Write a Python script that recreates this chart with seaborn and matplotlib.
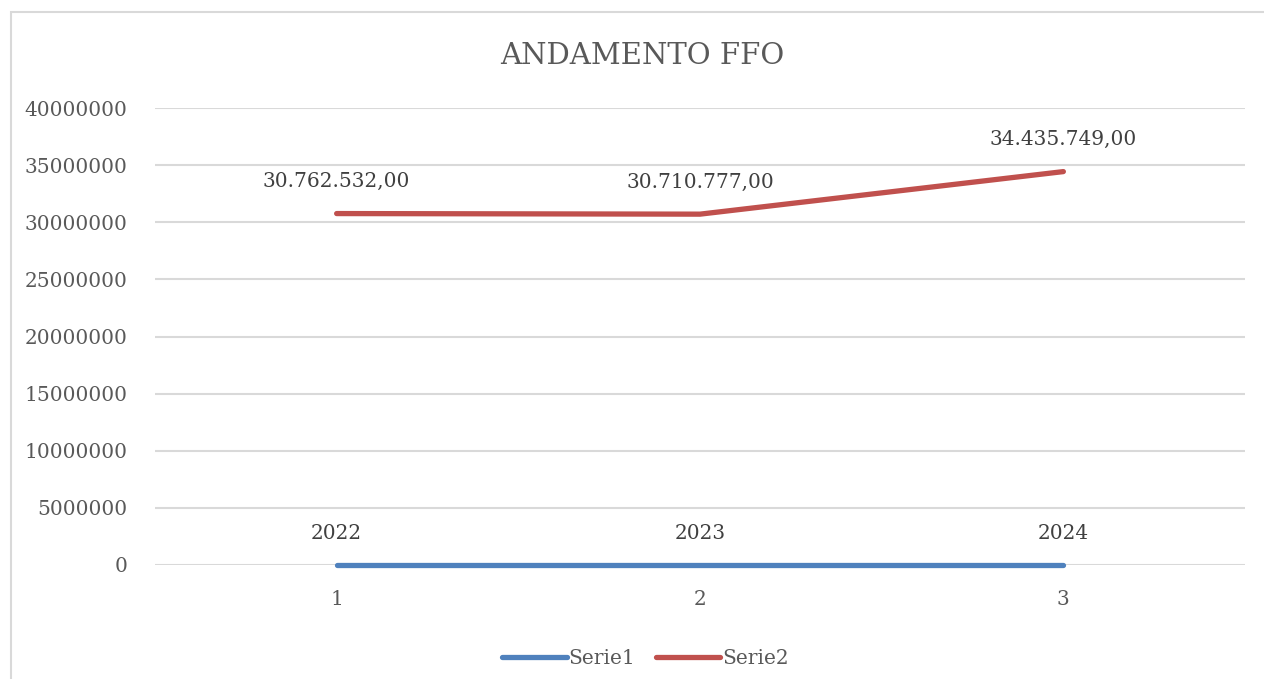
import pandas as pd
import matplotlib.pyplot as plt
import seaborn as sns
from matplotlib.patches import Rectangle

# data
positions = [1, 2, 3]
serie1 = [2022, 2023, 2024]
serie2 = [30762532.00, 30710777.00, 34435749.00]
serie2_labels = ["30.762.532,00", "30.710.777,00", "34.435.749,00"]
yticks = [0, 5000000, 10000000, 15000000, 20000000, 25000000, 30000000, 35000000, 40000000]

df = pd.DataFrame({
    "x": positions * 2,
    "value": serie1 + serie2,
    "serie": ["Serie1"] * 3 + ["Serie2"] * 3,
})

sns.set_style("white")
plt.rcParams['font.family'] = ['DejaVu Serif']
txt = '#595959'

fig = plt.figure(figsize=(12.64, 6.79), dpi=100)
ax = fig.add_axes([0.1226, 0.1679, 0.985 - 0.1226, 0.8409 - 0.1679])

sns.lineplot(data=df, x="x", y="value", hue="serie", palette=['#4F81BD', '#C0504D'],
             linewidth=3.8, ax=ax, solid_capstyle='round')
for ln in ax.lines:
    ln.set_clip_on(False)
    ln.set_zorder(3)

ax.set_xlim(0.5, 3.5)
ax.set_ylim(0, 40000000)
ax.set_yticks(yticks)
ax.set_yticklabels([str(v) for v in yticks])
ax.set_xticks(positions)
ax.set_xticklabels([str(p) for p in positions])
ax.tick_params(axis='both', length=0, labelsize=14.5, colors=txt)
ax.tick_params(axis='y', pad=20)
ax.tick_params(axis='x', pad=18)
ax.grid(axis='y', color='#D9D9D9', linewidth=1.5)
ax.set_axisbelow(True)
for s in ax.spines.values():
    s.set_visible(False)
ax.set_xlabel("")
ax.set_ylabel("")

for x, v in zip(positions, serie1):
    ax.annotate(str(v), (x, v), xytext=(0, 23), textcoords='offset points',
                ha='center', va='center', fontsize=14.5, color='#404040')
for x, v, lab in zip(positions, serie2, serie2_labels):
    ax.annotate(lab, (x, v), xytext=(0, 23), textcoords='offset points',
                ha='center', va='center', fontsize=14.5, color='#404040')

fig.text(0.508, 0.918, "ANDAMENTO FFO", ha='center', va='center', fontsize=21, color=txt)

leg = ax.legend(loc='center', bbox_to_anchor=(0.45, -0.205), ncol=2, frameon=False,
                fontsize=14.5, handlelength=3.2, handletextpad=0.1, columnspacing=1.0,
                labelcolor=txt)

fig.patches.append(Rectangle((11 / 1264, -0.05), 1.2, 1 - 12 / 679 + 0.05, transform=fig.transFigure,
                             fill=False, edgecolor='#D9D9D9', linewidth=1.5))

fig.savefig("out.png", dpi=100, facecolor='white')
